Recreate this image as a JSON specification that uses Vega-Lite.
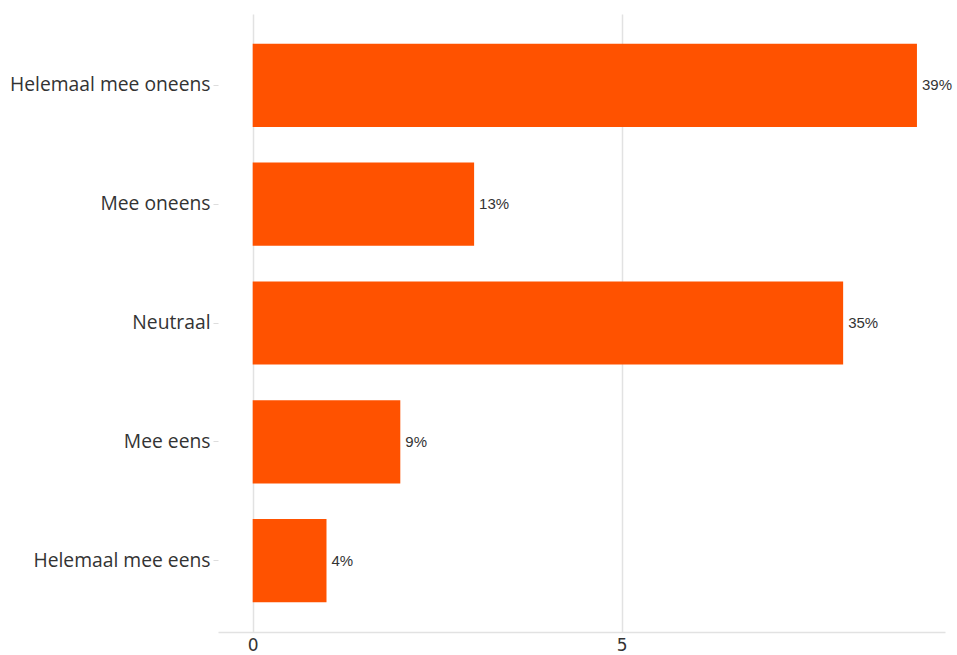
{
  "$schema": "https://vega.github.io/schema/vega-lite/v6.json",
  "autosize": "none",
  "width": 727,
  "height": 618,
  "padding": {"left": 218, "top": 14, "right": 12, "bottom": 23},
  "background": "white",
  "config": {"view": {"stroke": null}},
  "data": {
    "values": [
      {"antwoord": "Helemaal mee oneens", "aantal": 9, "pct": "39%"},
      {"antwoord": "Mee oneens", "aantal": 3, "pct": "13%"},
      {"antwoord": "Neutraal", "aantal": 8, "pct": "35%"},
      {"antwoord": "Mee eens", "aantal": 2, "pct": "9%"},
      {"antwoord": "Helemaal mee eens", "aantal": 1, "pct": "4%"}
    ]
  },
  "encoding": {
    "y": {
      "field": "antwoord",
      "type": "nominal",
      "sort": null,
      "scale": {"paddingInner": 0.3, "paddingOuter": 0.25},
      "axis": {
        "title": null,
        "domain": false,
        "grid": false,
        "ticks": true,
        "tickColor": "#dddddd",
        "tickSize": 5,
        "labelPadding": 3,
        "labelLimit": 0,
        "labelFont": "Open Sans",
        "labelFontSize": 19.3,
        "labelColor": "#333333"
      }
    }
  },
  "layer": [
    {
      "mark": {"type": "bar", "color": "#ff5200"},
      "encoding": {
        "x": {
          "field": "aantal",
          "type": "quantitative",
          "scale": {"domain": [-0.47, 9.38], "nice": false, "zero": false},
          "axis": {
            "title": null,
            "values": [0, 5],
            "format": "d",
            "grid": true,
            "gridColor": "#e2e2e2",
            "gridWidth": 1.5,
            "domain": true,
            "domainColor": "#e2e2e2",
            "domainWidth": 1.5,
            "ticks": false,
            "labelPadding": 5,
            "labelFont": "DejaVu Sans",
            "labelFontSize": 17,
            "labelColor": "#333333"
          }
        }
      }
    },
    {
      "mark": {"type": "text", "align": "left", "baseline": "middle", "dx": 5, "font": "Liberation Sans", "fontSize": 15, "color": "#333333"},
      "encoding": {
        "x": {"field": "aantal", "type": "quantitative"},
        "text": {"field": "pct"}
      }
    }
  ]
}
